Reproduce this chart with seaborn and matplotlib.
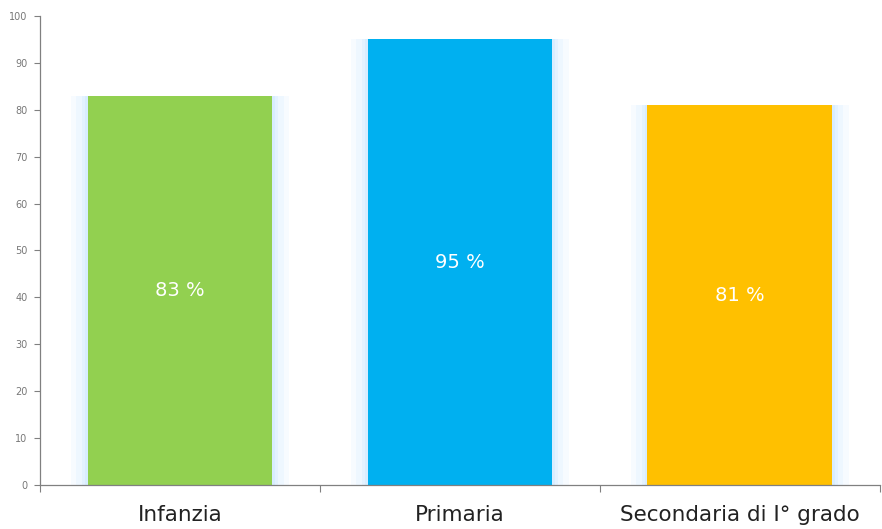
"""Percentuali per ordine di scuola: grafico a barre."""
import matplotlib
matplotlib.use("Agg")
import matplotlib.pyplot as plt
import pandas as pd
import seaborn as sns

categorie = ["Infanzia", "Primaria", "Secondaria di I° grado"]
valori = [83, 95, 81]
colori = ["#92D050", "#00B0F0", "#FFC000"]

df = pd.DataFrame({"ordine": categorie, "perc": valori})

sns.set_theme(style="white")
plt.rcParams["font.family"] = ["DejaVu Sans"]

fig = plt.figure(figsize=(8.82, 5.29), dpi=100)
ax = fig.add_axes([0.0454, 0.083, 0.952, 0.887])

# alone azzurro attorno alle barre
for w, a in [(0.78, 0.12), (0.74, 0.16), (0.70, 0.22), (0.68, 0.3)]:
    sns.barplot(data=df, x="ordine", y="perc", color="#BFE4FF", alpha=a,
                width=w, ax=ax, errorbar=None, linewidth=0, zorder=1,
                saturation=1)

sns.barplot(data=df, x="ordine", y="perc", hue="ordine", palette=colori,
            width=0.66, ax=ax, errorbar=None, legend=False, linewidth=0,
            zorder=2, saturation=1)

for i, v in enumerate(valori):
    ax.text(i, v / 2, f"{v} %", color="white", fontsize=14,
            ha="center", va="center", zorder=3)

ax.set_xlim(-0.5, 2.5)
ax.set_ylim(0, 100)
ax.set_yticks(range(0, 101, 10))
ax.set_xticks(range(3))
ax.set_xticklabels(categorie, fontsize=15.5, color="#222222")
ax.set_xticks([-0.5, 0.5, 1.5, 2.5], minor=True)
ax.tick_params(axis="x", which="major", length=0, pad=14)
ax.tick_params(axis="x", which="minor", length=5, width=0.8, color="#808080",
               bottom=True)
ax.tick_params(axis="y", length=4, width=0.8, color="#808080", left=True,
               labelsize=7, labelcolor="#777777", pad=5)
ax.set_xlabel("")
ax.set_ylabel("")

for s in ["top", "right"]:
    ax.spines[s].set_visible(False)
for s in ["left", "bottom"]:
    ax.spines[s].set_color("#808080")
    ax.spines[s].set_linewidth(0.9)

fig.savefig("out.png", dpi=100)
